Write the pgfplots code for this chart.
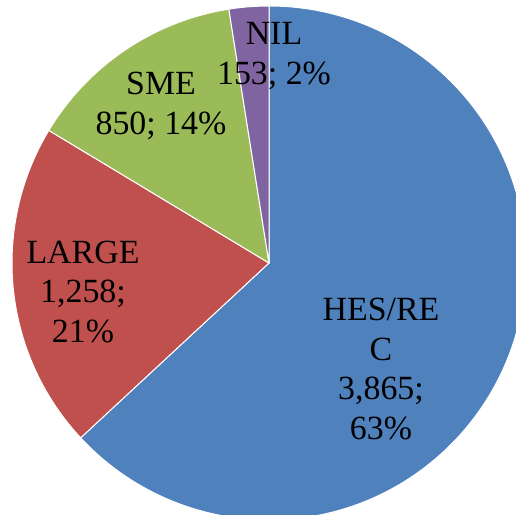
\documentclass[border=0pt]{standalone}
\usepackage{pgfplots}
\usepackage{pgfplotstable}
\pgfplotsset{compat=1.18}
\usepackage{fontspec}
\setmainfont{Liberation Serif}
\definecolor{cHES}{HTML}{4F81BD}
\definecolor{cLARGE}{HTML}{C0504D}
\definecolor{cSME}{HTML}{9BBB59}
\definecolor{cNIL}{HTML}{8064A2}
\pgfplotstableread{
name value
HES/REC 3865
LARGE 1258
SME 850
NIL 153
}\piedata
\begin{document}
\begin{tikzpicture}
\pgfplotstablegetelem{0}{value}\of\piedata \let\vA\pgfplotsretval
\pgfplotstablegetelem{1}{value}\of\piedata \let\vB\pgfplotsretval
\pgfplotstablegetelem{2}{value}\of\piedata \let\vC\pgfplotsretval
\pgfplotstablegetelem{3}{value}\of\piedata \let\vD\pgfplotsretval
\pgfmathsetmacro\tot{(\vA+\vB+\vC+\vD)/100}
\pgfmathsetmacro\aA{90-3.6*(\vA/\tot)}
\pgfmathsetmacro\aB{\aA-3.6*(\vB/\tot)}
\pgfmathsetmacro\aC{\aB-3.6*(\vC/\tot)}
\pgfmathsetmacro\aD{\aC-3.6*(\vD/\tot)}
\def\R{257}
\begin{axis}[scale only axis, width=516bp, height=515bp,
  xmin=-269, xmax=247, ymin=-252, ymax=263, hide axis, clip=true]
\fill[cHES, draw=white, line width=1bp] (axis cs:0,0) -- (axis cs:{\R*cos(90)},{\R*sin(90)}) arc[start angle=90, end angle=\aA, radius=\R bp] -- cycle;
\fill[cLARGE, draw=white, line width=1bp] (axis cs:0,0) -- (axis cs:{\R*cos(\aA)},{\R*sin(\aA)}) arc[start angle=\aA, end angle=\aB, radius=\R bp] -- cycle;
\fill[cSME, draw=white, line width=1bp] (axis cs:0,0) -- (axis cs:{\R*cos(\aB)},{\R*sin(\aB)}) arc[start angle=\aB, end angle=\aC, radius=\R bp] -- cycle;
\fill[cNIL, draw=white, line width=1bp] (axis cs:0,0) -- (axis cs:{\R*cos(\aC)},{\R*sin(\aC)}) arc[start angle=\aC, end angle=\aD, radius=\R bp] -- cycle;
\begin{scope}[every node/.style={align=center, inner sep=0pt, font=\fontsize{34}{40}\selectfont}]
\node at (axis cs:112,-106) {HES/RE\\C\\3,865;\\63\%};
\node[font=\fontsize{34}{39.5}\selectfont] at (axis cs:-186,-29) {LARGE\\1,258;\\21\%};
\node at (axis cs:-108,157) {SME\\850; 14\%};
\node at (axis cs:5,207) {NIL\\153; 2\%};
\end{scope}
\end{axis}
\pgfresetboundingbox
\path[use as bounding box] (current axis.south west) rectangle (current axis.north east);
\end{tikzpicture}
\end{document}
